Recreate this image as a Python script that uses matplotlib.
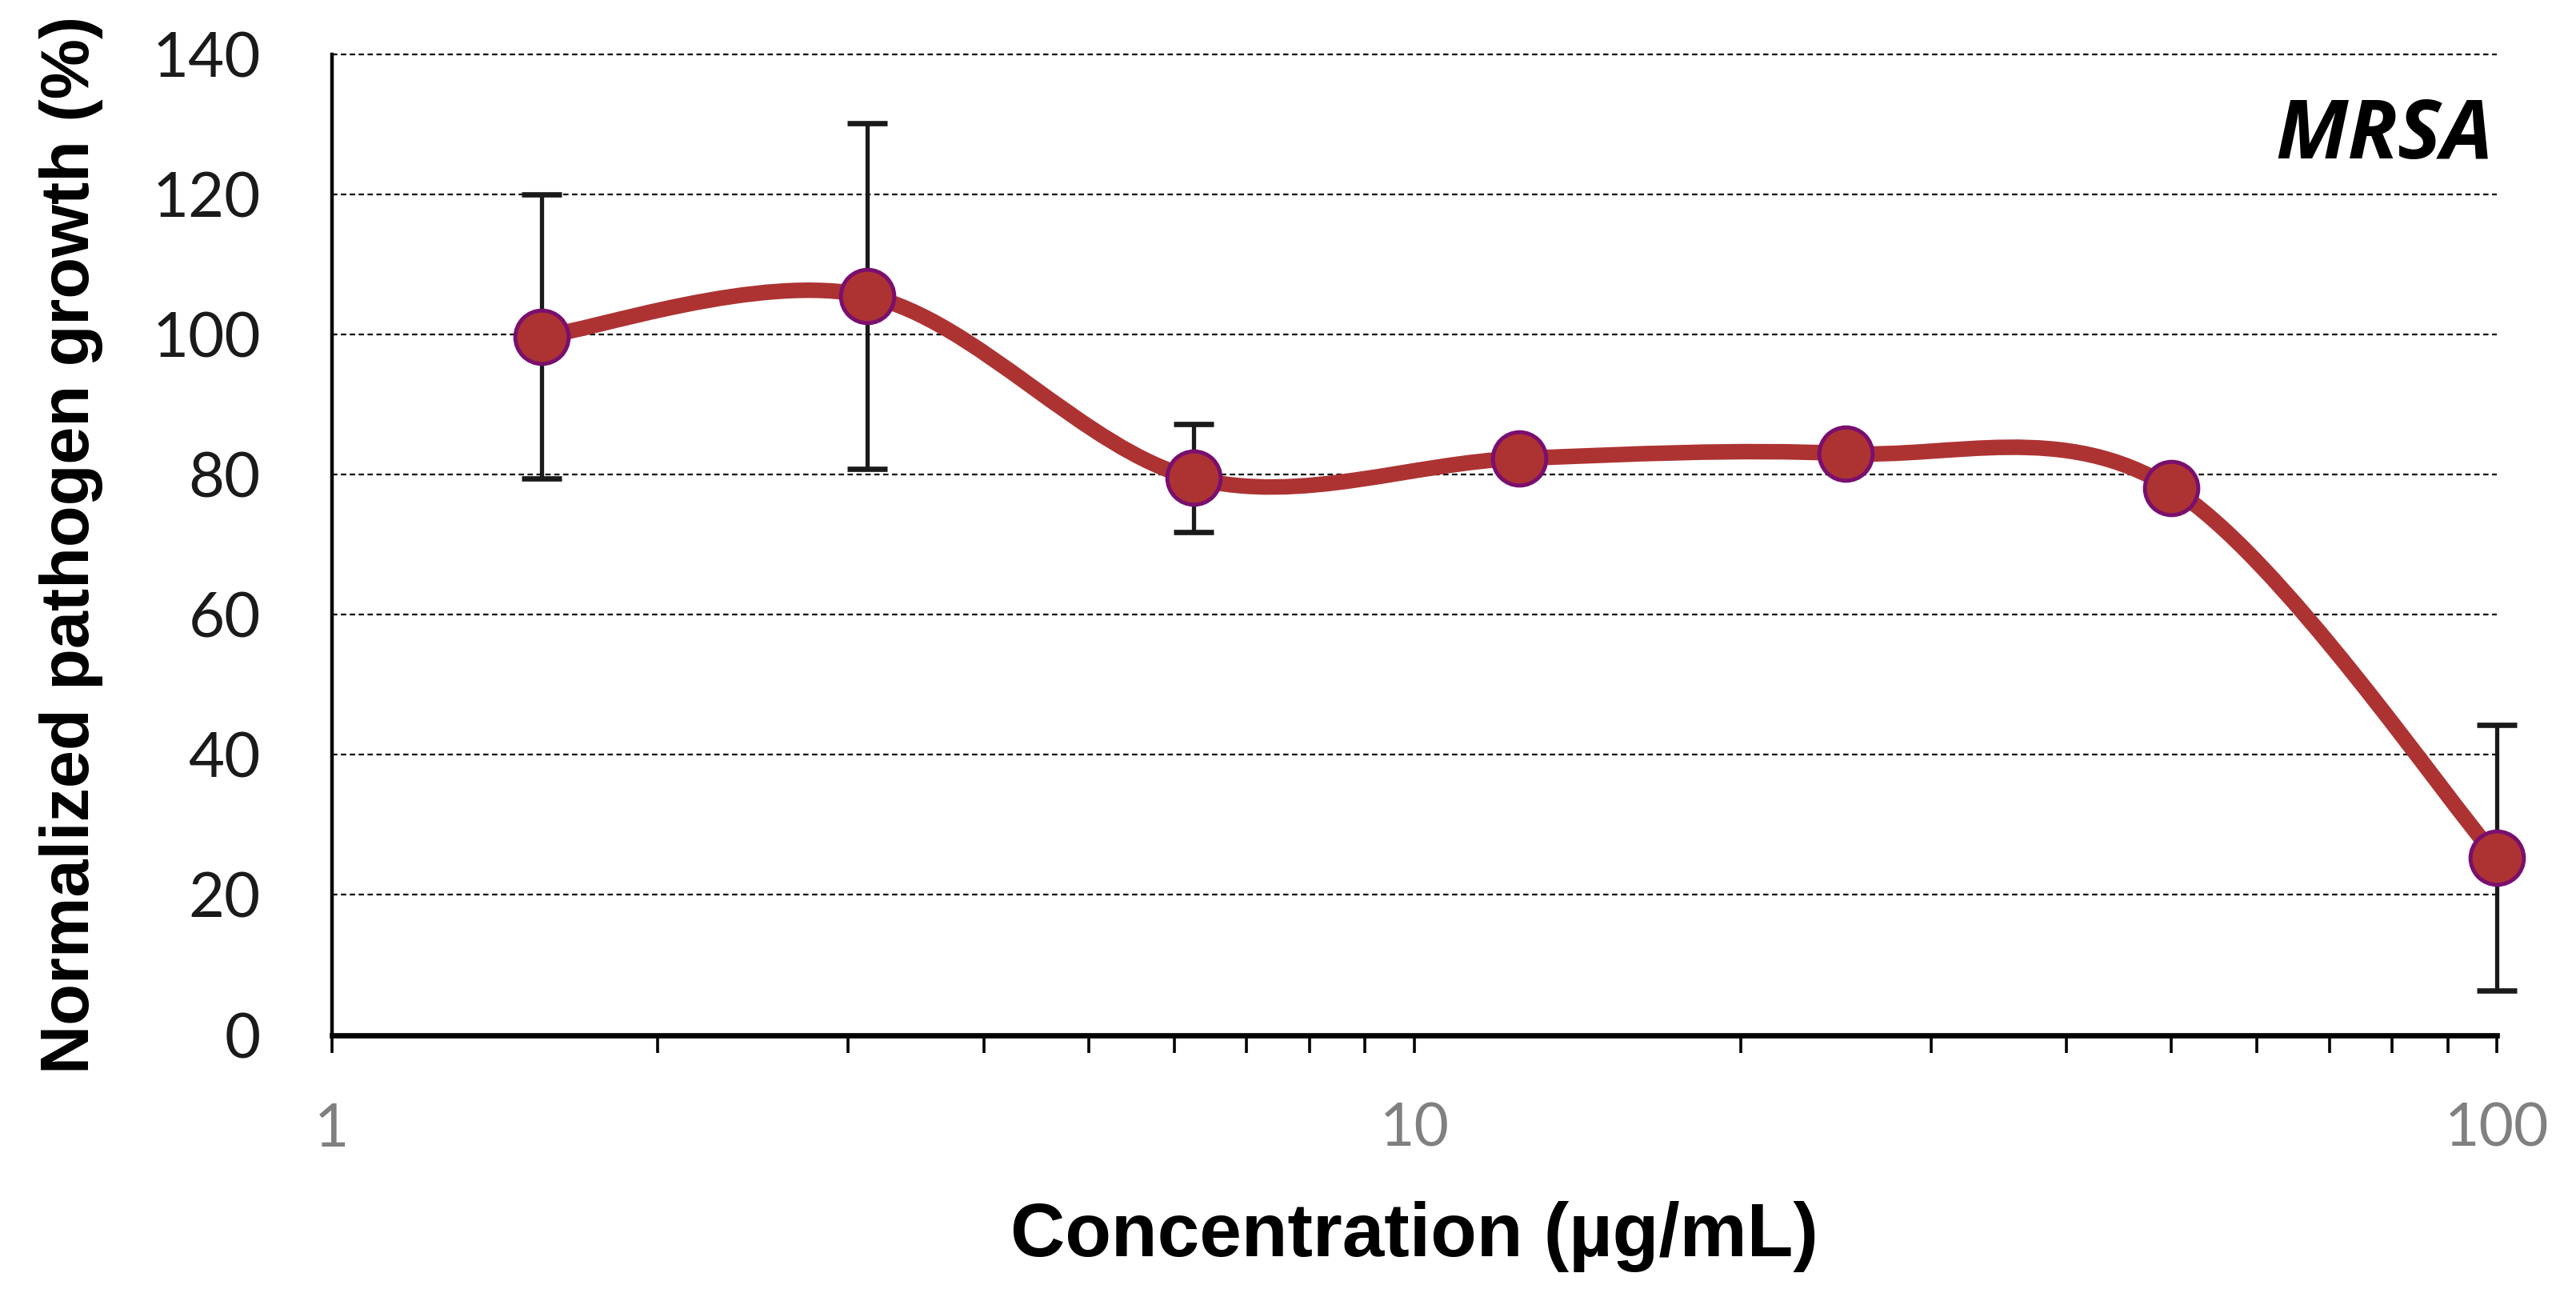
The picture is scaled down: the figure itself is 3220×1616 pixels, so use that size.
import numpy as np
import matplotlib
matplotlib.use('Agg')
import matplotlib.pyplot as plt
from matplotlib.path import Path
from matplotlib.patches import PathPatch
from matplotlib.ticker import LogLocator, FixedLocator, NullFormatter

# data
conc = [1.5625, 3.125, 6.25, 12.5, 25, 50, 100]
growth = [99.7, 105.5, 79.5, 82.3, 83.0, 78.1, 25.3]
err = [20.3, 24.7, 7.7, 0, 0, 0, 19.0]
y_ticks = [0, 20, 40, 60, 80, 100, 120, 140]
x_ticks = [1, 10, 100]
x_tick_labels = ['1', '10', '100']

line_red = '#AD3333'
marker_edge = '#7A0F6E'


def smooth_path(xs, ys):
    # Excel style smoothed line: Catmull-Rom bezier in log-x space
    lx = np.log10(xs)
    n = len(xs)
    verts = [(xs[0], ys[0])]
    codes = [Path.MOVETO]
    for i in range(n - 1):
        p0 = max(i - 1, 0)
        p3 = min(i + 2, n - 1)
        c1x = lx[i] + (lx[i + 1] - lx[p0]) / 6
        c1y = ys[i] + (ys[i + 1] - ys[p0]) / 6
        c2x = lx[i + 1] - (lx[p3] - lx[i]) / 6
        c2y = ys[i + 1] - (ys[p3] - ys[i]) / 6
        verts += [(10 ** c1x, c1y), (10 ** c2x, c2y), (xs[i + 1], ys[i + 1])]
        codes += [Path.CURVE4] * 3
    return Path(verts, codes)


fig = plt.figure(figsize=(16.1, 8.08), dpi=200)
ax = fig.add_axes([0.1288, 0.1995, 0.8406, 0.7586])

ax.set_xscale('log')
ax.set_xlim(1, 100)
ax.set_ylim(0, 140)

# grid
for yv in y_ticks[1:]:
    ax.axhline(yv, color='black', lw=0.8, ls=(0, (3, 2)), zorder=1, clip_on=False)

# smoothed line
patch = PathPatch(smooth_path(conc, growth), facecolor='none', edgecolor=line_red,
                  lw=7, capstyle='butt', zorder=2, clip_on=False)
ax.add_patch(patch)

# error bars
eb = ax.errorbar(conc, growth, yerr=err, fmt='none', ecolor='#1a1a1a', elinewidth=1.9,
                 capsize=9, capthick=2.4, zorder=3)
for art in eb.lines[1] + eb.lines[2]:
    art.set_clip_on(False)

# markers
ax.plot(conc, growth, 'o', ms=24, mfc=line_red, mec=marker_edge, mew=1.8, zorder=4,
        clip_on=False)

# spines
for s in ['top', 'right']:
    ax.spines[s].set_visible(False)
ax.spines['left'].set_linewidth(1.6)
ax.spines['bottom'].set_linewidth(2.4)

# ticks
ax.yaxis.set_major_locator(FixedLocator(y_ticks))
ax.tick_params(axis='y', length=0, pad=32, labelsize=28, labelcolor='#1a1a1a')
for lab in ax.get_yticklabels():
    lab.set_family('Lato')

ax.xaxis.set_major_locator(FixedLocator(x_ticks))
ax.set_xticklabels(x_tick_labels)
ax.xaxis.set_minor_locator(LogLocator(base=10, subs=np.arange(2, 10)))
ax.xaxis.set_minor_formatter(NullFormatter())
ax.tick_params(axis='x', which='both', direction='out', length=8, width=1.3,
               color='black', pad=22, labelsize=27, labelcolor='#808080')
for lab in ax.get_xticklabels():
    lab.set_family('Lato')

ax.set_xlabel('Concentration (µg/mL)', fontsize=34, fontweight='bold',
              family='Liberation Sans', labelpad=20)
ax.set_ylabel('Normalized pathogen growth (%)', fontsize=30.5, fontweight='bold',
              family='Liberation Sans', labelpad=22)

ax.text(0.998, 0.915, 'MRSA', transform=ax.transAxes, ha='right', va='center',
        fontsize=37, fontweight='bold', fontstyle='italic', family='Open Sans')

plt.savefig('out.png', dpi=200)
plt.close()
